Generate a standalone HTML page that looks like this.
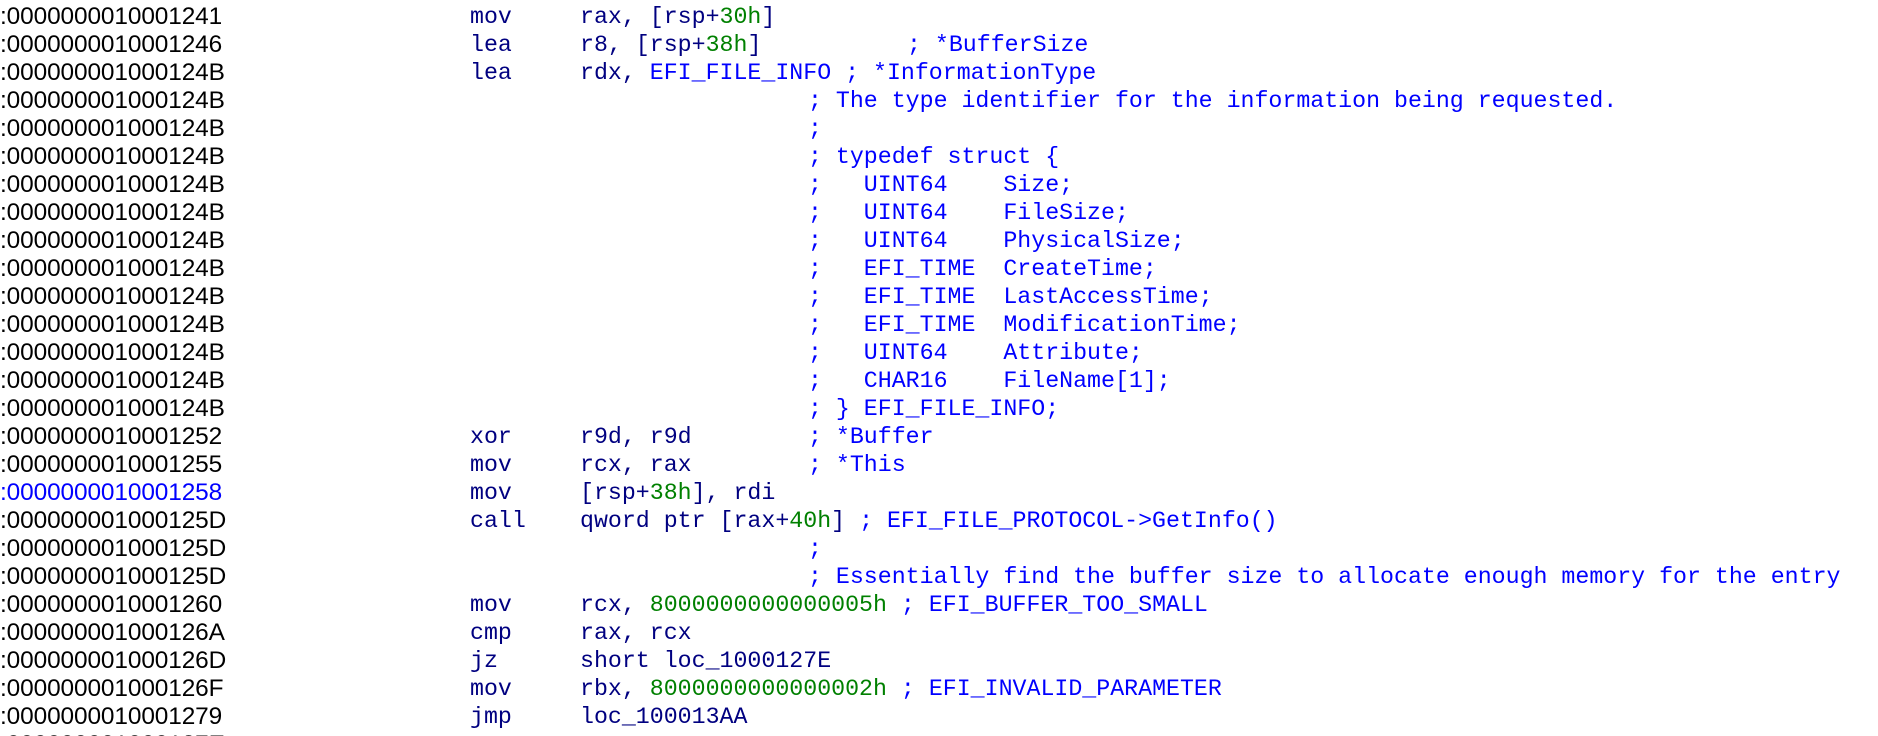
<!DOCTYPE html>
<html><head><meta charset="utf-8"><style>
html,body{margin:0;padding:0;background:#fff;width:1878px;height:736px;overflow:hidden;position:relative}
.r{position:absolute;left:0;height:28px;line-height:28.1px;white-space:pre;width:1878px}
.a{position:absolute;left:0;font-family:"Liberation Sans",sans-serif;font-size:24.4px;color:#000;letter-spacing:-0.1px}
.m,.o,.c{position:absolute;font-family:"Liberation Mono",monospace;font-size:23.25px;white-space:pre}
.m{left:470px;color:#000080}
.o{left:580px;color:#000080}
.c{left:808px;color:#0000ff}
.g{color:#008000}.b{color:#0000ff}
#w{position:absolute;left:0;top:3px;width:1878px;height:736px}
</style></head><body><div id="w">
<div class="r" style="top:0px"><span class="a">:0000000010001241</span><span class="m">mov</span><span class="o">rax, [rsp+<span class="g">30h</span>]</span></div>
<div class="r" style="top:28px"><span class="a">:0000000010001246</span><span class="m">lea</span><span class="o">r8, [rsp+<span class="g">38h</span>]</span><span class="c" style="left:907px">; *BufferSize</span></div>
<div class="r" style="top:56px"><span class="a">:000000001000124B</span><span class="m">lea</span><span class="o">rdx, <span class="b">EFI_FILE_INFO ; *InformationType</span></span></div>
<div class="r" style="top:84px"><span class="a">:000000001000124B</span><span class="c">; The type identifier for the information being requested.</span></div>
<div class="r" style="top:112px"><span class="a">:000000001000124B</span><span class="c">;</span></div>
<div class="r" style="top:140px"><span class="a">:000000001000124B</span><span class="c">; typedef struct {</span></div>
<div class="r" style="top:168px"><span class="a">:000000001000124B</span><span class="c">;   UINT64    Size;</span></div>
<div class="r" style="top:196px"><span class="a">:000000001000124B</span><span class="c">;   UINT64    FileSize;</span></div>
<div class="r" style="top:224px"><span class="a">:000000001000124B</span><span class="c">;   UINT64    PhysicalSize;</span></div>
<div class="r" style="top:252px"><span class="a">:000000001000124B</span><span class="c">;   EFI_TIME  CreateTime;</span></div>
<div class="r" style="top:280px"><span class="a">:000000001000124B</span><span class="c">;   EFI_TIME  LastAccessTime;</span></div>
<div class="r" style="top:308px"><span class="a">:000000001000124B</span><span class="c">;   EFI_TIME  ModificationTime;</span></div>
<div class="r" style="top:336px"><span class="a">:000000001000124B</span><span class="c">;   UINT64    Attribute;</span></div>
<div class="r" style="top:364px"><span class="a">:000000001000124B</span><span class="c">;   CHAR16    FileName[1];</span></div>
<div class="r" style="top:392px"><span class="a">:000000001000124B</span><span class="c">; } EFI_FILE_INFO;</span></div>
<div class="r" style="top:420px"><span class="a">:0000000010001252</span><span class="m">xor</span><span class="o">r9d, r9d</span><span class="c">; *Buffer</span></div>
<div class="r" style="top:448px"><span class="a">:0000000010001255</span><span class="m">mov</span><span class="o">rcx, rax</span><span class="c">; *This</span></div>
<div class="r" style="top:476px"><span class="a" style="color:#0000ff">:0000000010001258</span><span class="m">mov</span><span class="o">[rsp+<span class="g">38h</span>], rdi</span></div>
<div class="r" style="top:504px"><span class="a">:000000001000125D</span><span class="m">call</span><span class="o">qword ptr [rax+<span class="g">40h</span>] <span class="b">; EFI_FILE_PROTOCOL-&gt;GetInfo()</span></span></div>
<div class="r" style="top:532px"><span class="a">:000000001000125D</span><span class="c">;</span></div>
<div class="r" style="top:560px"><span class="a">:000000001000125D</span><span class="c">; Essentially find the buffer size to allocate enough memory for the entry</span></div>
<div class="r" style="top:588px"><span class="a">:0000000010001260</span><span class="m">mov</span><span class="o">rcx, <span class="g">8000000000000005h</span> <span class="b">; EFI_BUFFER_TOO_SMALL</span></span></div>
<div class="r" style="top:616px"><span class="a">:000000001000126A</span><span class="m">cmp</span><span class="o">rax, rcx</span></div>
<div class="r" style="top:644px"><span class="a">:000000001000126D</span><span class="m">jz</span><span class="o">short loc_1000127E</span></div>
<div class="r" style="top:672px"><span class="a">:000000001000126F</span><span class="m">mov</span><span class="o">rbx, <span class="g">8000000000000002h</span> <span class="b">; EFI_INVALID_PARAMETER</span></span></div>
<div class="r" style="top:700px"><span class="a">:0000000010001279</span><span class="m">jmp</span><span class="o">loc_100013AA</span></div>
<div class="r" style="top:728px"><span class="a">:000000001000127E</span></div>
</div></body></html>
